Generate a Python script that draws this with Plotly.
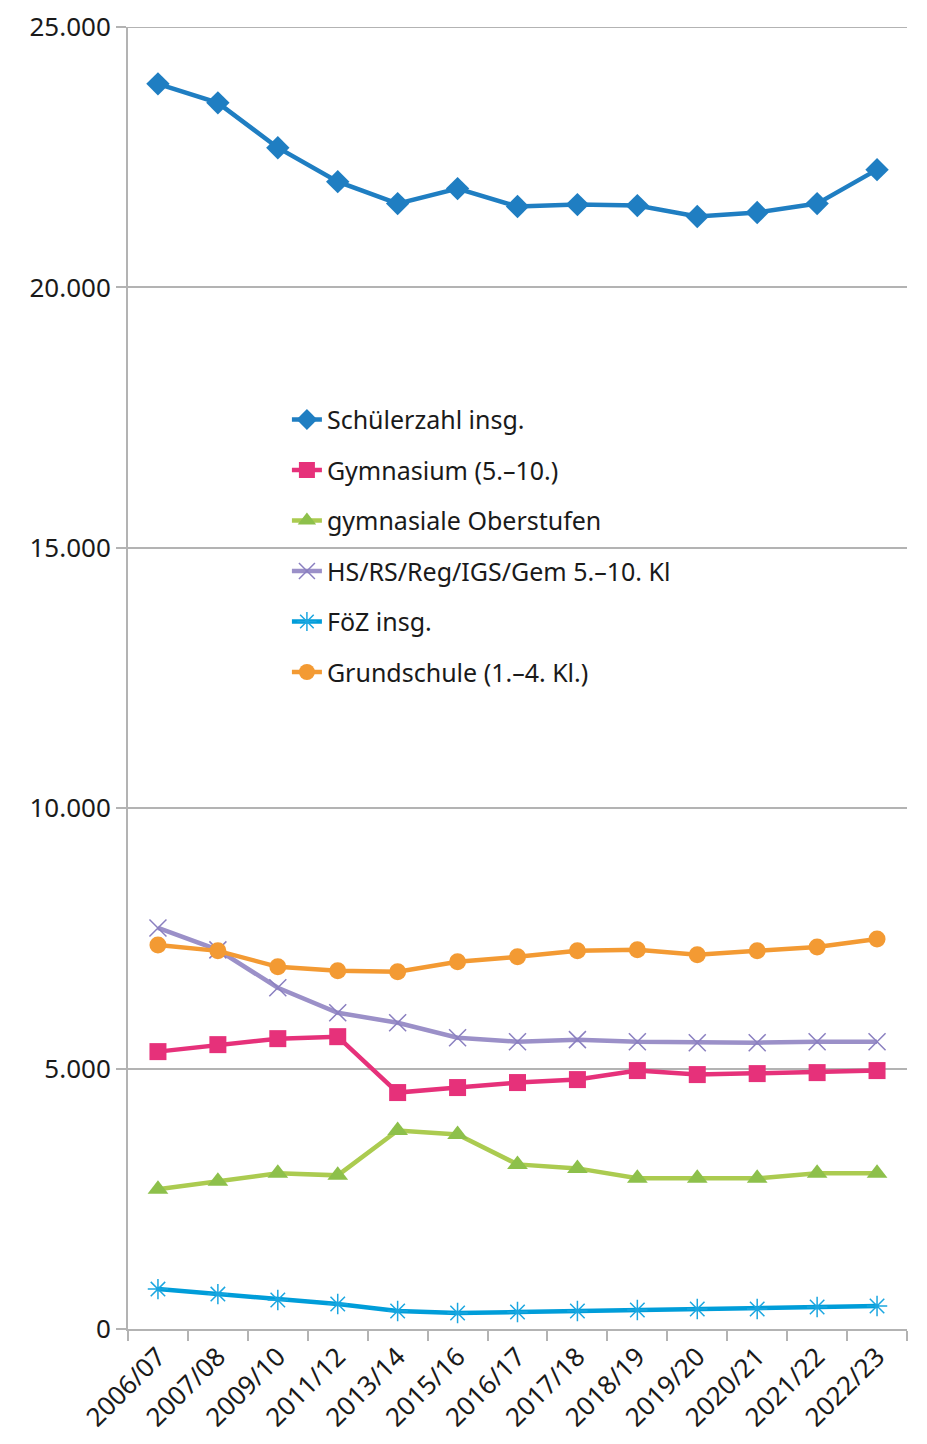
import plotly.graph_objects as go

years = ["2006/07", "2007/08", "2009/10", "2011/12", "2013/14", "2015/16", "2016/17",
         "2017/18", "2018/19", "2019/20", "2020/21", "2021/22", "2022/23"]

schueler_insg = [23908, 23544, 22682, 22031, 21609, 21897, 21552, 21590, 21571, 21360, 21437, 21609, 22261]
gymnasium = [5326, 5460, 5575, 5613, 4540, 4636, 4732, 4789, 4962, 4885, 4904, 4923, 4962]
oberstufen = [2682, 2835, 2989, 2950, 3812, 3736, 3161, 3084, 2893, 2893, 2893, 2989, 2989]
hs_rs = [7701, 7280, 6552, 6073, 5881, 5594, 5517, 5556, 5517, 5498, 5498, 5517, 5517]
foez = [766, 670, 556, 479, 345, 307, 326, 345, 364, 383, 383, 421, 441]
grundschule = [7375, 7261, 6954, 6877, 6858, 7050, 7146, 7261, 7280, 7184, 7261, 7337, 7490]

series = [
    ("Schülerzahl insg.", schueler_insg, "#1F7EC2", "#1F7EC2", "diamond", 18, 0),
    ("Gymnasium (5.–10.)", gymnasium, "#E6317A", "#E6317A", "square", 17, 0),
    ("gymnasiale Oberstufen", oberstufen, "#ABCB50", "#8DC04B", "triangle-up", 18, 0),
    ("HS/RS/Reg/IGS/Gem 5.–10. Kl", hs_rs, "#9B90C8", "#8A7FC0", "x-thin", 17, 1.5),
    ("FöZ insg.", foez, "#009DD9", "#1AA6E0", "asterisk", 17, 1.5),
    ("Grundschule (1.–4. Kl.)", grundschule, "#F39A33", "#F39A33", "circle", 17, 0),
]

fig = go.Figure()
for i, (name, vals, lc, mc, sym, size, mlw) in enumerate(series):
    marker = dict(symbol=sym, size=size, color=mc)
    if mlw:
        marker["line"] = dict(color=mc, width=mlw)
    else:
        marker["line"] = dict(width=0)
    fig.add_trace(go.Scatter(
        x=years, y=vals, name=name, mode="lines+markers",
        line=dict(color=lc, width=4.5),
        marker=marker, legendgroup=str(i),
    ))

fig.update_layout(
    width=927, height=1444,
    margin=dict(l=120, r=28, t=19, b=123, autoexpand=False),
    plot_bgcolor="white", paper_bgcolor="white",
    font=dict(family="Noto Sans", size=25, color="#1a1a1a"),
    separators=",.",
    showlegend=True,
    legend=dict(x=0.204, y=0.716, xanchor="left", yanchor="top",
                bgcolor="rgba(0,0,0,0)", tracegroupgap=15,
                font=dict(size=25)),
    xaxis=dict(
        type="category", range=[-0.5, 12.5], automargin=False,
        showgrid=False, showline=True, linecolor="#b3b3b3", linewidth=2,
        ticks="outside", tickson="boundaries", ticklen=10, tickwidth=2, tickcolor="#b3b3b3",
        tickangle=-45, tickfont=dict(size=26),
    ),
    yaxis=dict(
        range=[0, 25000], tickvals=[0, 5000, 10000, 15000, 20000, 25000],
        tickformat=",d", ticklabeloverflow="allow", automargin=False,
        showgrid=True, gridcolor="#b3b3b3", gridwidth=2,
        showline=True, linecolor="#b3b3b3", linewidth=2,
        ticks="outside", ticklen=10, tickwidth=2, tickcolor="#b3b3b3",
        zeroline=False, tickfont=dict(size=26),
    ),
    shapes=[dict(type="line", xref="paper", yref="y", x0=0, x1=1, y0=25000, y1=25000,
                 line=dict(color="#b3b3b3", width=2), layer="below")],
)

fig.write_html("out.html")
